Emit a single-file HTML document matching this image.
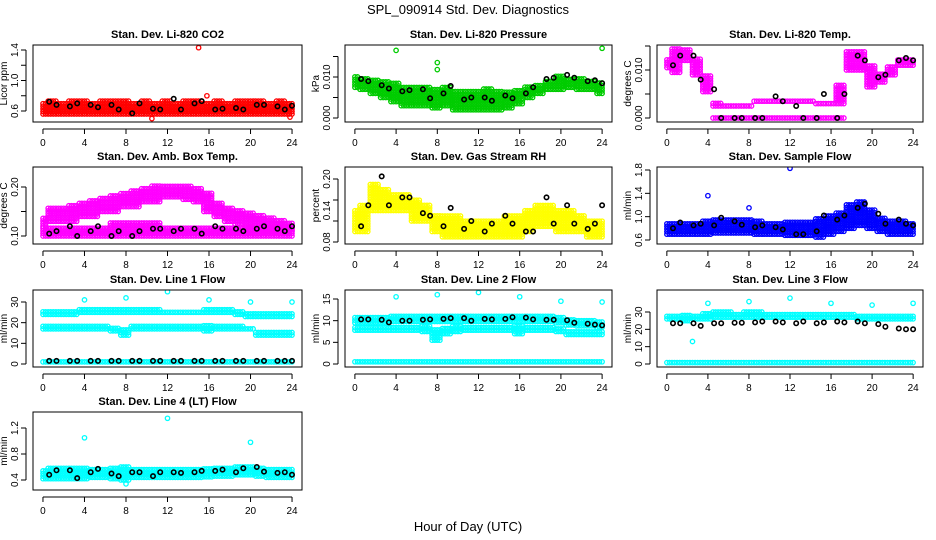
<!DOCTYPE html>
<html><head><meta charset="utf-8"><style>
body{margin:0;background:#fff}
svg{display:block;font-family:"Liberation Sans",sans-serif}
</style></head><body>
<svg id="c" width="936" height="540">
<text x="468" y="14" text-anchor="middle" font-size="13">SPL_090914  Std. Dev. Diagnostics</text>
<text x="468" y="531" text-anchor="middle" font-size="13">Hour of Day (UTC)</text>
</svg>
<script>
// ---- data (hourly, index = hour 0..24) ----
const hours=[0,1,2,3,4,5,6,7,8,9,10,11,12,13,14,15,16,17,18,19,20,21,22,23,24];
const xTicks=[0,4,8,12,16,20,24];
// P1 CO2
const co2Lo=[0.56,0.56,0.56,0.56,0.56,0.56,0.56,0.56,0.56,0.56,0.56,0.56,0.56,0.56,0.56,0.56,0.56,0.56,0.56,0.56,0.56,0.56,0.56,0.56,0.56];
const co2Hi=[0.72,0.73,0.72,0.74,0.73,0.72,0.74,0.73,0.74,0.72,0.73,0.72,0.73,0.72,0.73,0.74,0.72,0.73,0.72,0.73,0.74,0.73,0.72,0.73,0.72];
const co2Black=[0.72,0.68,0.66,0.70,0.68,0.65,0.68,0.62,0.57,0.70,0.63,0.62,0.76,0.62,0.70,0.73,0.62,0.63,0.64,0.62,0.68,0.68,0.66,0.62,0.67];
const co2OutX=[15,10.5,23.8,15.8];
const co2OutY=[1.43,0.50,0.52,0.8];
// P2 Pressure
const prLo=[0.0075,0.007,0.006,0.005,0.004,0.003,0.003,0.003,0.0025,0.003,0.002,0.002,0.002,0.002,0.002,0.0025,0.0035,0.005,0.006,0.007,0.007,0.0075,0.007,0.007,0.006];
const prHi=[0.0105,0.010,0.0095,0.009,0.0085,0.008,0.0075,0.008,0.0075,0.0075,0.007,0.007,0.007,0.0075,0.007,0.0065,0.007,0.008,0.0085,0.0095,0.0105,0.010,0.010,0.0095,0.009];
const prBlack=[0.0095,0.009,0.008,0.0072,0.0065,0.0068,0.007,0.0048,0.006,0.0078,0.0045,0.005,0.005,0.0042,0.0055,0.0048,0.006,0.0075,0.0095,0.0098,0.0105,0.0098,0.009,0.0092,0.0085];
const prOutX=[4,8,8,24];
const prOutY=[0.0165,0.0135,0.0118,0.017];
// P3 Li-820 temp
const tpLo=[0.0105,0.0095,0.012,0.009,0.0055,0.0025,0.0025,0.0025,0.0025,0.0035,0.0035,0.0035,0.0035,0.0035,0.0035,0.003,0.003,0.003,0.010,0.010,0.0065,0.0075,0.009,0.011,0.011];
const tpHi=[0.0125,0.0145,0.0145,0.0125,0.009,0.0035,0.0028,0.0028,0.0028,0.0035,0.0038,0.0038,0.0038,0.0038,0.004,0.0035,0.0035,0.007,0.014,0.014,0.011,0.0095,0.011,0.0125,0.0125];
const tpZeroLo=[null,null,null,null,null,0,0,0,0,0,0,0,0,0,0,0,0,0,null,null,null,null,null,null,null];
const tpBlack=[0.011,0.013,0.013,0.008,0.006,0,0,0,0,0,0.0045,0.0035,0.0025,0,0,0.005,0,0.005,0.013,0.012,0.0085,0.009,0.012,0.0125,0.012];
// P4 Amb box temp
const btUpLo=[0.12,0.13,0.13,0.13,0.14,0.14,0.15,0.15,0.16,0.16,0.17,0.17,0.18,0.18,0.175,0.17,0.15,0.14,0.13,0.125,0.12,0.115,0.11,0.11,0.11];
const btUpHi=[0.14,0.16,0.16,0.165,0.17,0.175,0.18,0.185,0.19,0.195,0.20,0.205,0.205,0.205,0.205,0.20,0.19,0.17,0.16,0.155,0.15,0.145,0.14,0.135,0.13];
const btLowLo=[0.10,0.10,0.10,0.10,0.10,0.10,0.10,0.10,0.10,0.10,0.10,0.10,0.10,0.10,0.10,0.10,0.10,0.10,0.10,0.10,0.10,0.10,0.10,0.10,0.10];
const btLowHi=[0.12,0.12,0.12,0.12,0.12,0.12,0.12,0.13,0.13,0.13,0.13,0.13,0.12,0.12,0.12,0.12,0.12,0.12,0.12,0.12,0.12,0.12,0.12,0.12,0.12];
const btBlack=[0.105,0.11,0.12,0.10,0.11,0.12,0.10,0.11,0.10,0.11,0.115,0.115,0.11,0.115,0.115,0.105,0.12,0.115,0.115,0.11,0.115,0.12,0.115,0.11,0.12];
// P5 RH
const rhLo=[0.10,0.10,0.14,0.14,0.14,0.14,0.12,0.12,0.10,0.09,0.09,0.09,0.09,0.09,0.09,0.09,0.09,0.10,0.11,0.11,0.10,0.10,0.10,0.09,0.09];
const rhHi=[0.14,0.15,0.19,0.18,0.17,0.17,0.16,0.15,0.13,0.13,0.13,0.12,0.12,0.12,0.12,0.13,0.13,0.14,0.15,0.15,0.14,0.14,0.13,0.12,0.12];
const rhBlack=[0.11,0.15,0.205,0.15,0.165,0.165,0.135,0.13,0.11,0.145,0.105,0.12,0.10,0.115,0.13,0.115,0.10,0.10,0.165,0.115,0.15,0.115,0.105,0.115,0.15];
// P6 Sample flow
const sfLo=[0.70,0.70,0.70,0.70,0.70,0.72,0.72,0.72,0.72,0.70,0.70,0.70,0.68,0.68,0.68,0.65,0.70,0.75,0.80,0.85,0.80,0.75,0.70,0.70,0.70];
const sfHi=[0.90,0.92,0.92,0.92,0.95,0.98,0.98,0.98,0.98,0.95,0.92,0.92,0.92,0.92,0.92,1.00,1.05,1.10,1.20,1.25,1.15,1.00,0.95,0.95,0.90];
const sfBlack=[0.80,0.90,0.85,0.88,0.85,0.98,0.92,0.86,0.82,0.85,0.82,0.78,0.70,0.70,0.75,1.02,0.95,1.02,1.15,1.22,1.05,0.88,0.95,0.88,0.85];
const sfOutX=[12,4,8];
const sfOutY=[1.83,1.36,1.15];
// P7 Line1
const l1aLo=[24,24,24,24,25,25,25,25,25,25,25,25,25,25,25,25,25,25,25,24,23,23,23,23,23];
const l1aHi=[26,26,26,26,27,27,27,27,27,27,27,27,26,26,26,26,27,27,27,26,25,25,25,25,25];
const l1bLo=[17,17,17,17,17,17,17,16,14,17,17,17,17,17,17,17,16,17,17,17,17,14,14,14,14];
const l1bHi=[19,19,19,19,19,19,19,18,17,19,19,19,19,19,19,19,19,19,19,19,18,16,16,16,16];
const l1cLo=[1,1,1,1,1,1,1,1,1,1,1,1,1,1,1,1,1,1,1,1,1,1,1,1,1];
const l1cHi=[2,2,2,2,2,2,2,2,2,2,2,2,2,2,2,2,2,2,2,2,2,2,2,2,2];
const l1Black=[1.5,1.5,1.5,1.5,1.5,1.5,1.5,1.5,1.5,1.5,1.5,1.5,1.5,1.5,1.5,1.5,1.5,1.5,1.5,1.5,1.5,1.5,1.5,1.5,1.5];
const l1OutX=[4,8,12,16,20,24];
const l1OutY=[31,32,35,31,30,30];
// P8 Line2
const l2aLo=[9.5,9.5,9.5,9.5,9.8,9.8,9.8,9.8,9.8,9.8,9.8,9.8,9.8,9.8,9.8,9.8,9.8,9.8,9.8,9.8,9.5,9,8.8,8.8,8.5];
const l2aHi=[10.8,10.8,10.8,10.8,11,11,11,11,11,11,11,11,11,11.3,11.3,11,11,11,11,11,10.8,10.3,10,10,9.8];
const l2bLo=[7.8,7.8,7.8,7.8,7.8,7.8,7.8,7.5,5.5,7,7.5,7.8,7.8,7.8,7.8,7.8,7,7.8,7.8,7.8,7.5,6.8,6.8,6.8,6.8];
const l2bHi=[8.8,8.8,8.8,8.8,8.8,8.8,8.8,8.8,8,8.5,8.8,8.8,8.8,8.8,8.8,8.8,8.8,8.8,8.8,8.8,8.5,7.5,7.5,7.5,7.5];
const l2cLo=[0.5,0.5,0.5,0.5,0.5,0.5,0.5,0.5,0.5,0.5,0.5,0.5,0.5,0.5,0.5,0.5,0.5,0.5,0.5,0.5,0.5,0.5,0.5,0.5,0.5];
const l2cHi=[1,1,1,1,1,1,1,1,1,1,1,1,1,1,1,1,1,1,1,1,1,1,1,1,1];
const l2Black=[10.3,10.3,10.2,9.6,10,10,10.2,10.3,10.4,10.6,10.6,10,10.4,10.3,10.4,10.8,10.7,10.3,10.2,10.2,10.1,9.5,9.3,9.1,8.9];
const l2OutX=[4,8,12,16,20,24];
const l2OutY=[15.5,16,16.5,15.5,14.5,14.3];
// P9 Line3
const l3aLo=[26,26,25,26,26,27,27,27,27,27,27,27,27,27,27,27,27,27,27,26,26,26,26,26,26];
const l3aHi=[28.5,28,28,28.5,29,30,30,29.5,30,30,29.5,29.5,29.5,29.5,29.5,29.5,29.5,29.5,29.5,28.5,28,28,28,28,28.5];
const l3cLo=[0.8,0.8,0.8,0.8,0.8,0.8,0.8,0.8,0.8,0.8,0.8,0.8,0.8,0.8,0.8,0.8,0.8,0.8,0.8,0.8,0.8,0.8,0.8,0.8,0.8];
const l3cHi=[2.2,2.2,2.2,2.2,2.2,2.2,2.2,2.2,2.2,2.2,2.2,2.2,2.2,2.2,2.2,2.2,2.2,2.2,2.2,2.2,2.2,2.2,2.2,2.2,2.2];
const l3Black=[23.5,23.5,23.5,22,23.5,23.5,23.8,23.8,24,24.5,24.5,24,23.5,24.5,23.5,24,24.5,24,24.5,23.5,23,21.5,20.5,20,20];
const l3OutX=[4,8,12,16,20,24,2.5];
const l3OutY=[35,36,38,35,34,35,13];
// P10 Line4
const l4Lo=[0.42,0.42,0.42,0.42,0.42,0.44,0.44,0.42,0.40,0.44,0.44,0.44,0.44,0.44,0.44,0.44,0.45,0.46,0.46,0.48,0.48,0.46,0.44,0.44,0.44];
const l4Hi=[0.56,0.58,0.58,0.58,0.58,0.58,0.58,0.60,0.60,0.58,0.58,0.58,0.58,0.58,0.58,0.58,0.58,0.60,0.60,0.62,0.62,0.60,0.58,0.58,0.58];
const l4Black=[0.48,0.55,0.55,0.43,0.52,0.57,0.50,0.46,0.52,0.52,0.46,0.52,0.52,0.51,0.52,0.54,0.54,0.56,0.52,0.58,0.60,0.53,0.51,0.52,0.48];
const l4OutX=[4,12,20,8];
const l4OutY=[1.05,1.35,0.98,0.34];

const NS="http://www.w3.org/2000/svg";
const svg=document.getElementById('c');
function el(t,a,p){const e=document.createElementNS(NS,t);for(const k in a)e.setAttribute(k,a[k]);(p||svg).appendChild(e);return e;}

function panel(o){
  const g=el('g',{});
  
  
  const L=o.x0,R=o.x1,T=o.y0,B=o.y1;
  const xs=h=>L+(h+0.96)/25.92*(R-L);
  const ys=v=>o.pa+(v-o.va)*(o.pb-o.pa)/(o.vb-o.va);
  const clip='cl'+o.name;
  const cp=el('clipPath',{id:clip},g);el('rect',{x:L,y:T,width:R-L,height:B-T},cp);
  const data=el('g',{'clip-path':'url(#'+clip+')'},g);
  const pt=(x,y,c)=>{const e=el('circle',{cx:x.toFixed(1),cy:y.toFixed(1),r:2.2,fill:'none',stroke:c,'stroke-width':1.3},data);return e;};
  (o.bands||[]).forEach(b=>{
    hours.forEach((h,i)=>{
      if(b.lo[i]==null)return;
      const yTop=ys(b.hi[i]),yBot=ys(b.lo[i]);
      for(let dx=-0.5;dx<0.5;dx+=0.25){
        const hh=h+dx;if(hh<0||hh>24)continue;
        for(let y=yBot;y>=yTop-0.1;y-=2.6){pt(xs(hh),y,b.c);}
      }
    });
  });
  if(o.out)o.out[0].forEach((h,i)=>pt(xs(h),ys(o.out[1][i]),o.col));
  if(o.black)o.black.forEach((v,i)=>{if(v!=null){const e=pt(xs(hours[i]+0.5>24?24:hours[i]+(i%2?0.3:0.6)),ys(v),'#000');e.setAttribute('stroke-width',1.6);}});
  const fr=el('rect',{x:L,y:T,width:R-L,height:B-T,fill:'none',stroke:'#000','stroke-width':1},g);
  
  
  // x axis
  const ax=el('g',{},g);
  
  
  el('line',{x1:xs(0),x2:xs(24),y1:B+7,y2:B+7,stroke:'#000'},ax);
  xTicks.forEach(t=>{el('line',{x1:xs(t),x2:xs(t),y1:B+7,y2:B+12,stroke:'#000'},ax);
    const tx=el('text',{x:xs(t),y:B+24,'text-anchor':'middle','font-size':10},ax);tx.textContent=t;});
  // y axis
  const ay=el('g',{},g);
  
  
  const ya=L-7;
  el('line',{x1:ya,x2:ya,y1:ys(o.yt[0]),y2:ys(o.yt[o.yt.length-1]),stroke:'#000'},ay);
  o.yt.forEach(t=>el('line',{x1:ya-5,x2:ya,y1:ys(t),y2:ys(t),stroke:'#000'},ay));
  o.yl.forEach((t,i)=>{const y=ys(o.ylv[i]);const tx=el('text',{x:ya-8,y:y,'text-anchor':'middle','font-size':10,transform:'rotate(-90 '+(ya-8)+' '+y+')'},ay);tx.textContent=t;});
  const yc=(T+B)/2;
  const yt=el('text',{x:L-26,y:yc,'text-anchor':'middle','font-size':10,transform:'rotate(-90 '+(L-26)+' '+yc+')'},g);yt.textContent=o.ylab;
  
  
  const ti=el('text',{x:(L+R)/2,y:T-7,'text-anchor':'middle','font-size':11,'font-weight':'bold'},g);ti.textContent=o.title;
  
  
}
const C1=[33,302],C2=[345,612],C3=[657,923];
panel({name:'co2-panel',title:'Stan. Dev. Li-820 CO2',ylab:'Licor ppm',x0:C1[0],x1:C1[1],y0:45,y1:122,va:0.6,pa:111,vb:1.4,pb:50,
  yt:[0.6,0.8,1.0,1.2,1.4],yl:['0.6','1.0','1.4'],ylv:[0.6,1.0,1.4],col:'#f00',bands:[{lo:co2Lo,hi:co2Hi,c:'#f00'}],out:[co2OutX,co2OutY],black:co2Black});
panel({name:'pressure-panel',title:'Stan. Dev. Li-820 Pressure',ylab:'kPa',x0:C2[0],x1:C2[1],y0:45,y1:122,va:0,pa:118,vb:0.01,pb:77,
  yt:[0,0.005,0.01,0.015],yl:['0.000','0.010'],ylv:[0,0.01],col:'#0c0',bands:[{lo:prLo,hi:prHi,c:'#0c0'}],out:[prOutX,prOutY],black:prBlack});
panel({name:'temp-panel',title:'Stan. Dev. Li-820 Temp.',ylab:'degrees C',x0:C3[0],x1:C3[1],y0:45,y1:122,va:0,pa:118,vb:0.01,pb:70,
  yt:[0,0.005,0.01,0.015],yl:['0.000','0.010'],ylv:[0,0.01],col:'#f0f',bands:[{lo:tpLo,hi:tpHi,c:'#f0f'},{lo:tpZeroLo,hi:tpZeroLo,c:'#f0f'}],black:tpBlack});
panel({name:'box-temp-panel',title:'Stan. Dev. Amb. Box Temp.',ylab:'degrees C',x0:C1[0],x1:C1[1],y0:167,y1:244,va:0.10,pa:236,vb:0.20,pb:187,
  yt:[0.10,0.15,0.20],yl:['0.10','0.20'],ylv:[0.10,0.20],col:'#f0f',bands:[{lo:btUpLo,hi:btUpHi,c:'#f0f'},{lo:btLowLo,hi:btLowHi,c:'#f0f'}],black:btBlack});
panel({name:'rh-panel',title:'Stan. Dev. Gas Stream RH',ylab:'percent',x0:C2[0],x1:C2[1],y0:167,y1:244,va:0.08,pa:242,vb:0.20,pb:179,
  yt:[0.08,0.12,0.16,0.20],yl:['0.08','0.14','0.20'],ylv:[0.08,0.14,0.20],col:'#ff0',bands:[{lo:rhLo,hi:rhHi,c:'#ff0'}],black:rhBlack});
panel({name:'sample-flow-panel',title:'Stan. Dev. Sample Flow',ylab:'ml/min',x0:C3[0],x1:C3[1],y0:167,y1:244,va:0.6,pa:240,vb:1.8,pb:170,
  yt:[0.6,1.0,1.4,1.8],yl:['0.6','1.0','1.4','1.8'],ylv:[0.6,1.0,1.4,1.8],col:'#00f',bands:[{lo:sfLo,hi:sfHi,c:'#00f'}],out:[sfOutX,sfOutY],black:sfBlack});
panel({name:'line1-flow-panel',title:'Stan. Dev. Line 1 Flow',ylab:'ml/min',x0:C1[0],x1:C1[1],y0:290,y1:367,va:0,pa:364,vb:30,pb:302,
  yt:[0,10,20,30],yl:['0','10','20','30'],ylv:[0,10,20,30],col:'#0ff',bands:[{lo:l1aLo,hi:l1aHi,c:'#0ff'},{lo:l1bLo,hi:l1bHi,c:'#0ff'},{lo:l1cLo,hi:l1cHi,c:'#0ff'}],out:[l1OutX,l1OutY],black:l1Black});
panel({name:'line2-flow-panel',title:'Stan. Dev. Line 2 Flow',ylab:'ml/min',x0:C2[0],x1:C2[1],y0:290,y1:367,va:0,pa:364,vb:15,pb:299,
  yt:[0,5,10,15],yl:['0','5','10','15'],ylv:[0,5,10,15],col:'#0ff',bands:[{lo:l2aLo,hi:l2aHi,c:'#0ff'},{lo:l2bLo,hi:l2bHi,c:'#0ff'},{lo:l2cLo,hi:l2cHi,c:'#0ff'}],out:[l2OutX,l2OutY],black:l2Black});
panel({name:'line3-flow-panel',title:'Stan. Dev. Line 3 Flow',ylab:'ml/min',x0:C3[0],x1:C3[1],y0:290,y1:367,va:0,pa:364,vb:30,pb:312,
  yt:[0,10,20,30],yl:['0','10','20','30'],ylv:[0,10,20,30],col:'#0ff',bands:[{lo:l3aLo,hi:l3aHi,c:'#0ff'},{lo:l3cLo,hi:l3cHi,c:'#0ff'}],out:[l3OutX,l3OutY],black:l3Black});
panel({name:'line4-flow-panel',title:'Stan. Dev. Line 4 (LT) Flow',ylab:'ml/min',x0:C1[0],x1:C1[1],y0:412,y1:490,va:0.4,pa:480,vb:1.2,pb:428,
  yt:[0.4,0.8,1.2],yl:['0.4','0.8','1.2'],ylv:[0.4,0.8,1.2],col:'#0ff',bands:[{lo:l4Lo,hi:l4Hi,c:'#0ff'}],out:[l4OutX,l4OutY],black:l4Black});
</script>
</body></html>
